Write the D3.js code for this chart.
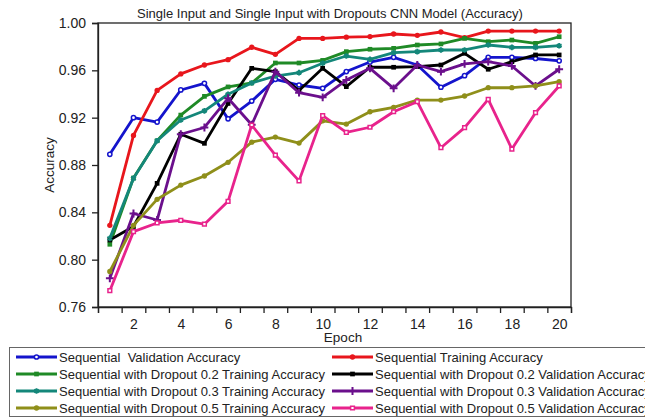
<!DOCTYPE html>
<html>
<head>
<meta charset="utf-8">
<script src="https://d3js.org/d3.v7.min.js"></script>
<style>
  body { margin: 0; background: #fff; }
  text { font-family: "Liberation Sans", Arial, sans-serif; fill: #222; white-space: pre; }
</style>
</head>
<body>
<script>
// epochs and accuracy values
const epochs = [1, 2, 3, 4, 5, 6, 7, 8, 9, 10, 11, 12, 13, 14, 15, 16, 17, 18, 19, 20];
const yTicks = [0.76, 0.80, 0.84, 0.88, 0.92, 0.96, 1.00];
const xLabels = [2, 4, 6, 8, 10, 12, 14, 16, 18, 20];

const seqVal   = [0.889, 0.920, 0.9163, 0.9434, 0.949, 0.919, 0.934, 0.9524, 0.9476, 0.9448, 0.959, 0.967, 0.971, 0.9645, 0.9457, 0.9555, 0.971, 0.971, 0.970, 0.968];
const seqTrain = [0.829, 0.905, 0.943, 0.957, 0.9645, 0.969, 0.9795, 0.9735, 0.987, 0.987, 0.988, 0.9885, 0.9907, 0.9896, 0.9924, 0.9876, 0.9932, 0.9932, 0.9932, 0.9932];
const d2Train  = [0.813, 0.869, 0.9005, 0.9222, 0.938, 0.946, 0.9493, 0.9662, 0.9662, 0.9684, 0.9758, 0.9778, 0.9786, 0.9814, 0.9823, 0.987, 0.9842, 0.9856, 0.9828, 0.9884];
const d2Val    = [0.8166, 0.828, 0.8645, 0.906, 0.8983, 0.932, 0.9617, 0.9589, 0.943, 0.9617, 0.9462, 0.9626, 0.9626, 0.9631, 0.9645, 0.9744, 0.9609, 0.9673, 0.973, 0.973];
const d3Train  = [0.818, 0.8687, 0.9005, 0.918, 0.9258, 0.9398, 0.9493, 0.9552, 0.958, 0.966, 0.9721, 0.9693, 0.9749, 0.9758, 0.9772, 0.9772, 0.9814, 0.9794, 0.9794, 0.9808];
const d3Val    = [0.7842, 0.839, 0.8335, 0.906, 0.9117, 0.9364, 0.914, 0.9589, 0.9411, 0.9372, 0.9518, 0.9617, 0.9448, 0.9645, 0.9589, 0.9654, 0.9673, 0.9637, 0.9468, 0.9609];
const d5Train  = [0.79, 0.829, 0.851, 0.863, 0.8707, 0.8823, 0.8993, 0.9036, 0.8985, 0.9173, 0.9146, 0.925, 0.9287, 0.9349, 0.9349, 0.9383, 0.9453, 0.9453, 0.9468, 0.9504];
const d5Val    = [0.7738, 0.8237, 0.831, 0.8333, 0.83, 0.8493, 0.9138, 0.8884, 0.8666, 0.9218, 0.9076, 0.9119, 0.925, 0.9335, 0.8946, 0.9116, 0.9355, 0.8935, 0.9242, 0.9468];

const series = [
  { name: "Sequential  Validation Accuracy", values: seqVal, color: "#1414cc", sym: d3.symbolCircle, open: true, col: 0, row: 0 },
  { name: "Sequential Training Accuracy", values: seqTrain, color: "#e8161c", sym: d3.symbolCircle, col: 1, row: 0 },
  { name: "Sequential with Dropout 0.2 Training Accuracy", values: d2Train, color: "#1f8a26", sym: d3.symbolSquare, col: 0, row: 1 },
  { name: "Sequential with Dropout 0.2 Validation Accuracy", values: d2Val, color: "#000000", sym: d3.symbolSquare, col: 1, row: 1 },
  { name: "Sequential with Dropout 0.3 Training Accuracy", values: d3Train, color: "#14877a", sym: d3.symbolAsterisk, stroke: true, col: 0, row: 2 },
  { name: "Sequential with Dropout 0.3 Validation Accuracy", values: d3Val, color: "#6b0f8c", sym: d3.symbolPlus, stroke: true, col: 1, row: 2 },
  { name: "Sequential with Dropout 0.5 Training Accuracy", values: d5Train, color: "#8f8f1a", sym: d3.symbolCircle, col: 0, row: 3 },
  { name: "Sequential with Dropout 0.5 Validation Accuracy", values: d5Val, color: "#e8238c", sym: d3.symbolSquare, open: true, col: 1, row: 3 }
];

const width = 645, height = 420;
const plot = { left: 98, right: 571, top: 23, bottom: 307 };

const svg = d3.select("body").append("svg")
    .attr("width", width)
    .attr("height", height);

const x = d3.scaleLinear().domain([0.5, 20.5]).range([plot.left, plot.right]);
const y = d3.scaleLinear().domain([0.76, 1.00]).range([plot.bottom, plot.top]);

// title
svg.append("text")
    .attr("x", 330).attr("y", 18)
    .attr("text-anchor", "middle")
    .style("font-size", "13px")
    .text("Single Input and Single Input with Dropouts CNN Model (Accuracy)");

// y axis
const yAxis = svg.append("g")
    .attr("transform", `translate(${plot.left},0)`)
    .call(d3.axisLeft(y).tickValues(yTicks).tickFormat(d3.format(".2f")).tickSize(6).tickPadding(6));
yAxis.selectAll("text").style("font-size", "14px").attr("fill", "#333");

// x axis: tick marks at the band edges, labels at even epochs
svg.append("g")
    .attr("transform", `translate(0,${plot.bottom})`)
    .call(d3.axisBottom(x).tickValues(d3.range(0.5, 21, 1)).tickFormat("").tickSize(6));
const xLabelAxis = svg.append("g")
    .attr("transform", `translate(0,${plot.bottom})`)
    .call(d3.axisBottom(x).tickValues(xLabels).tickSize(0).tickPadding(12));
xLabelAxis.select(".domain").remove();
xLabelAxis.selectAll("text").style("font-size", "14px").attr("fill", "#333");

svg.selectAll(".domain, .tick line").attr("stroke", "#222").attr("stroke-width", 1.3);

// frame
svg.append("rect")
    .attr("x", plot.left).attr("y", plot.top)
    .attr("width", plot.right - plot.left).attr("height", plot.bottom - plot.top)
    .attr("fill", "none").attr("stroke", "#222").attr("stroke-width", 1.3);

// axis titles
svg.append("text")
    .attr("transform", "translate(54,165) rotate(-90)")
    .attr("text-anchor", "middle")
    .style("font-size", "13.5px")
    .text("Accuracy");
svg.append("text")
    .attr("x", 343).attr("y", 342)
    .attr("text-anchor", "middle")
    .style("font-size", "13.5px")
    .text("Epoch");

const line = d3.line()
    .x((d, i) => x(epochs[i]))
    .y(d => y(d));

const drawMarker = (g, s, size) => {
  const path = d3.symbol().type(s.sym).size(size)();
  if (s.stroke) {
    g.append("path").attr("d", path).attr("fill", "none").attr("stroke", s.color).attr("stroke-width", 2);
  } else if (s.open) {
    g.append("path").attr("d", path).attr("fill", "#fff").attr("stroke", s.color).attr("stroke-width", 1.5);
  } else {
    g.append("path").attr("d", path).attr("fill", s.color);
  }
};

series.forEach(s => {
  svg.append("path")
      .datum(s.values)
      .attr("d", line)
      .attr("fill", "none")
      .attr("stroke", s.color)
      .attr("stroke-width", 2.8)
      .attr("stroke-linejoin", "round");
  s.values.forEach((v, i) => {
    const g = svg.append("g").attr("transform", `translate(${x(epochs[i])},${y(v)})`);
    drawMarker(g, s, s.open ? 14 : 22);
  });
});

// legend
const legend = svg.append("g");
legend.append("rect")
    .attr("x", 9.5).attr("y", 347.5)
    .attr("width", 700).attr("height", 69)
    .attr("fill", "#fff").attr("stroke", "#666").attr("stroke-width", 1);

const colX = [{ line: 16, text: 59 }, { line: 332, text: 375 }];
const rowY = [357, 374, 391, 408];

series.forEach(s => {
  const lx = colX[s.col].line, ly = rowY[s.row];
  legend.append("line")
      .attr("x1", lx).attr("x2", lx + 41)
      .attr("y1", ly).attr("y2", ly)
      .attr("stroke", s.color).attr("stroke-width", 2.8);
  const g = legend.append("g").attr("transform", `translate(${lx + 20.5},${ly})`);
  drawMarker(g, s, s.open ? 14 : 22);
  legend.append("text")
      .attr("x", colX[s.col].text).attr("y", ly + 4.5)
      .style("font-size", "13px")
      .text(s.name);
});
</script>
</body>
</html>
